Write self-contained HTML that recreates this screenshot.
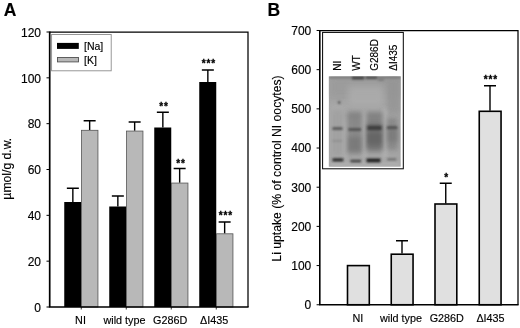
<!DOCTYPE html>
<html><head><meta charset="utf-8"><title>Figure</title>
<style>
html,body{margin:0;padding:0;background:#fff;}
body{width:520px;height:328px;overflow:hidden;}
svg{display:block;}
text{font-family:'Liberation Sans', Arial, sans-serif;fill:#000;stroke:#000;stroke-width:0.15px;}
</style></head><body>
<svg width="520" height="328" viewBox="0 0 520 328">
<defs>
<filter id="b1" filterUnits="userSpaceOnUse" x="315" y="65" width="100" height="110"><feGaussianBlur stdDeviation="0.8"/></filter>
<filter id="b2" filterUnits="userSpaceOnUse" x="315" y="65" width="100" height="110"><feGaussianBlur stdDeviation="2"/></filter>
<filter id="b3" filterUnits="userSpaceOnUse" x="315" y="65" width="100" height="110"><feGaussianBlur stdDeviation="3"/></filter>
<clipPath id="gelclip"><rect x="328.7" y="76.3" width="72.1" height="90.5"/></clipPath>
</defs>
<rect width="520" height="328" fill="#fff"/>

<text x="3.8" y="15.8" font-size="17.5" font-weight="bold">A</text>
<path d="M72.85 202V188.25M66.85 188.25H78.85" stroke="#000" stroke-width="1.4" fill="none"/>
<rect x="64.25" y="202" width="17" height="105" fill="#000"/>
<path d="M89.65 130V120.75M83.65 120.75H95.65" stroke="#000" stroke-width="1.4" fill="none"/>
<rect x="81.55" y="130.3" width="16.4" height="176.7" fill="#b8b8b8" stroke="#555" stroke-width="0.8"/>
<path d="M81.25 307V309.5" stroke="#000" stroke-width="0.8"/>
<path d="M117.85 206.5V196M111.85 196H123.85" stroke="#000" stroke-width="1.4" fill="none"/>
<rect x="109.25" y="206.5" width="17" height="100.5" fill="#000"/>
<path d="M134.65 130.75V122M128.65 122H140.65" stroke="#000" stroke-width="1.4" fill="none"/>
<rect x="126.55" y="131.05" width="16.4" height="175.95" fill="#b8b8b8" stroke="#555" stroke-width="0.8"/>
<path d="M126.25 307V309.5" stroke="#000" stroke-width="0.8"/>
<path d="M162.85 127.5V112.25M156.85 112.25H168.85" stroke="#000" stroke-width="1.4" fill="none"/>
<rect x="154.25" y="127.5" width="17" height="179.5" fill="#000"/>
<path d="M179.65 182.75V168.5M173.65 168.5H185.65" stroke="#000" stroke-width="1.4" fill="none"/>
<rect x="171.55" y="183.05" width="16.4" height="123.95" fill="#b8b8b8" stroke="#555" stroke-width="0.8"/>
<path d="M171.25 307V309.5" stroke="#000" stroke-width="0.8"/>
<path d="M207.85 82V70M201.85 70H213.85" stroke="#000" stroke-width="1.4" fill="none"/>
<rect x="199.25" y="82" width="17" height="225" fill="#000"/>
<path d="M224.65 233.5V222M218.65 222H230.65" stroke="#000" stroke-width="1.4" fill="none"/>
<rect x="216.55" y="233.8" width="16.4" height="73.2" fill="#b8b8b8" stroke="#555" stroke-width="0.8"/>
<path d="M216.25 307V309.5" stroke="#000" stroke-width="0.8"/>
<path d="M49.5 32H248V307" stroke="#000" stroke-width="1.25" fill="none"/>
<path d="M49.7 31.4V307H248.6" stroke="#000" stroke-width="1.7" fill="none"/>
<path d="M46.5 307.00H49.5" stroke="#000" stroke-width="1"/>
<text x="41" y="311.70" font-size="12" text-anchor="end">0</text>
<path d="M46.5 261.17H49.5" stroke="#000" stroke-width="1"/>
<text x="41" y="265.87" font-size="12" text-anchor="end">20</text>
<path d="M46.5 215.33H49.5" stroke="#000" stroke-width="1"/>
<text x="41" y="220.03" font-size="12" text-anchor="end">40</text>
<path d="M46.5 169.50H49.5" stroke="#000" stroke-width="1"/>
<text x="41" y="174.20" font-size="12" text-anchor="end">60</text>
<path d="M46.5 123.66H49.5" stroke="#000" stroke-width="1"/>
<text x="41" y="128.36" font-size="12" text-anchor="end">80</text>
<path d="M46.5 77.83H49.5" stroke="#000" stroke-width="1"/>
<text x="41" y="82.53" font-size="12" text-anchor="end">100</text>
<path d="M46.5 32.00H49.5" stroke="#000" stroke-width="1"/>
<text x="41" y="36.70" font-size="12" text-anchor="end">120</text>
<text transform="translate(11.2 168.7) rotate(-90)" font-size="12.2" text-anchor="middle">µmol/g d.w.</text>
<text x="80.5" y="323.9" font-size="10.8" text-anchor="middle">NI</text>
<text x="124.5" y="323.9" font-size="10.8" text-anchor="middle">wild type</text>
<text x="170.2" y="323.9" font-size="10.8" text-anchor="middle">G286D</text>
<text x="214.2" y="323.9" font-size="10.8" text-anchor="middle">ΔI435</text>
<rect x="51.6" y="34.5" width="59.6" height="36.3" fill="#fff" stroke="#8c8c8c" stroke-width="0.9"/>
<rect x="57" y="42.9" width="21.8" height="6" fill="#000"/>
<rect x="57.5" y="57.5" width="21" height="4.4" fill="#b8b8b8" stroke="#505050" stroke-width="0.9"/>
<text x="84" y="50.2" font-size="10.5">[Na]</text>
<text x="84" y="64.2" font-size="10.5">[K]</text>
<text x="163.9" y="110.4" font-size="10" font-weight="bold" letter-spacing="0.8" style="stroke-width:0.3px" text-anchor="middle">**</text>
<text x="180.9" y="167.15" font-size="10" font-weight="bold" letter-spacing="0.8" style="stroke-width:0.3px" text-anchor="middle">**</text>
<text x="208.9" y="67.4" font-size="10" font-weight="bold" letter-spacing="0.8" style="stroke-width:0.3px" text-anchor="middle">***</text>
<text x="225.9" y="219.15" font-size="10" font-weight="bold" letter-spacing="0.8" style="stroke-width:0.3px" text-anchor="middle">***</text>
<text x="267.6" y="15.8" font-size="17.5" font-weight="bold">B</text>
<rect x="347.5" y="265.6" width="21.8" height="39.15" fill="#e0e0e0" stroke="#000" stroke-width="1.6"/>
<path d="M402.0 253.6V240.75M396.0 240.75H408.0" stroke="#000" stroke-width="1.4" fill="none"/>
<rect x="391.25" y="254.2" width="21.8" height="50.550000000000004" fill="#e0e0e0" stroke="#000" stroke-width="1.6"/>
<path d="M445.75 203.4V183.25M439.75 183.25H451.75" stroke="#000" stroke-width="1.4" fill="none"/>
<rect x="435.0" y="204.0" width="21.8" height="100.75" fill="#e0e0e0" stroke="#000" stroke-width="1.6"/>
<path d="M490.0 110.7V85.75M484.0 85.75H496.0" stroke="#000" stroke-width="1.4" fill="none"/>
<rect x="479.25" y="111.3" width="21.8" height="193.45000000000002" fill="#e0e0e0" stroke="#000" stroke-width="1.6"/>
<path d="M319.5 30.5H518V304.75" stroke="#000" stroke-width="1.25" fill="none"/>
<path d="M319.8 29.9V304.75H518.6" stroke="#000" stroke-width="1.6" fill="none"/>
<path d="M316.6 304.75H319.5" stroke="#000" stroke-width="1"/>
<text x="311.3" y="309.05" font-size="12" text-anchor="end">0</text>
<path d="M316.6 265.57H319.5" stroke="#000" stroke-width="1"/>
<text x="311.3" y="269.87" font-size="12" text-anchor="end">100</text>
<path d="M316.6 226.39H319.5" stroke="#000" stroke-width="1"/>
<text x="311.3" y="230.69" font-size="12" text-anchor="end">200</text>
<path d="M316.6 187.21H319.5" stroke="#000" stroke-width="1"/>
<text x="311.3" y="191.51" font-size="12" text-anchor="end">300</text>
<path d="M316.6 148.03H319.5" stroke="#000" stroke-width="1"/>
<text x="311.3" y="152.33" font-size="12" text-anchor="end">400</text>
<path d="M316.6 108.85H319.5" stroke="#000" stroke-width="1"/>
<text x="311.3" y="113.15" font-size="12" text-anchor="end">500</text>
<path d="M316.6 69.67H319.5" stroke="#000" stroke-width="1"/>
<text x="311.3" y="73.97" font-size="12" text-anchor="end">600</text>
<path d="M316.6 30.49H319.5" stroke="#000" stroke-width="1"/>
<text x="311.3" y="34.79" font-size="12" text-anchor="end">700</text>
<text transform="translate(281.2 168.5) rotate(-90)" font-size="12.2" text-anchor="middle">Li uptake (% of control NI oocytes)</text>
<text x="357.8" y="321.7" font-size="10.8" text-anchor="middle">NI</text>
<text x="401" y="321.7" font-size="10.8" text-anchor="middle">wild type</text>
<text x="446.8" y="321.7" font-size="10.8" text-anchor="middle">G286D</text>
<text x="490.5" y="321.7" font-size="10.8" text-anchor="middle">ΔI435</text>
<text x="446.6" y="180.8" font-size="10" font-weight="bold" letter-spacing="0.8" style="stroke-width:0.3px" text-anchor="middle">*</text>
<text x="490.9" y="82.6" font-size="10" font-weight="bold" letter-spacing="0.8" style="stroke-width:0.3px" text-anchor="middle">***</text>
<rect x="322.6" y="32.4" width="80.7" height="136.4" fill="#fff" stroke="#000" stroke-width="1"/>
<text transform="translate(340.9 70.8) rotate(-90)" font-size="10">NI</text>
<text transform="translate(360.1 70.8) rotate(-90)" font-size="10">WT</text>
<text transform="translate(377.8 70.8) rotate(-90)" font-size="10">G286D</text>
<text transform="translate(397.2 70.8) rotate(-90)" font-size="10">ΔI435</text>
<g clip-path="url(#gelclip)">
<rect x="328.7" y="76.3" width="72.1" height="90.5" fill="#a4a4a4"/>
<rect x="329" y="76" width="72" height="22" fill="#9a9a9a" opacity="0.8" filter="url(#b3)"/>
<rect x="386" y="76" width="15" height="38" fill="#949494" opacity="0.8" filter="url(#b3)"/>
<rect x="329" y="104" width="17" height="63" fill="#aeaeae" opacity="0.7" filter="url(#b3)"/>
<rect x="348" y="86" width="36" height="20" fill="#adadad" opacity="0.8" filter="url(#b3)"/>
<rect x="329" y="162" width="72" height="5" fill="#b2b2b2" opacity="0.8" filter="url(#b2)"/>
<rect x="362.8" y="112" width="3.0" height="46" fill="#bcbcbc" opacity="0.85" filter="url(#b2)"/>
<rect x="383" y="108" width="3.1999999999999886" height="50" fill="#bcbcbc" opacity="0.85" filter="url(#b2)"/>
<rect x="343.5" y="120" width="3.5" height="38" fill="#b4b4b4" opacity="0.6" filter="url(#b2)"/>
<rect x="332.5" y="110" width="10.0" height="46" fill="#989898" opacity="0.5" filter="url(#b2)"/>
<rect x="347.5" y="112" width="14.5" height="42" fill="#868686" opacity="0.9" filter="url(#b2)"/>
<rect x="348.5" y="137" width="12.5" height="14" fill="#747474" opacity="0.7" filter="url(#b2)"/>
<rect x="349" y="113.5" width="11" height="5.5" fill="#808080" opacity="0.5" filter="url(#b2)"/>
<rect x="366.5" y="112" width="16.0" height="40" fill="#808080" opacity="0.9" filter="url(#b2)"/>
<rect x="367" y="124" width="15" height="24" fill="#686868" opacity="0.85" filter="url(#b2)"/>
<rect x="367.5" y="134" width="14.0" height="9" fill="#5e5e5e" opacity="0.4" filter="url(#b1)"/>
<rect x="387" y="118" width="10.5" height="32" fill="#858585" opacity="0.85" filter="url(#b2)"/>
<rect x="387.5" y="128" width="10.0" height="14" fill="#747474" opacity="0.6" filter="url(#b2)"/>
<rect x="329" y="76.3" width="72" height="1.9000000000000057" fill="#707070" opacity="0.9" filter="url(#b1)"/>
<rect x="352" y="76.5" width="12" height="2.799999999999997" fill="#3c3c3c" opacity="0.95" filter="url(#b1)"/>
<rect x="366" y="76.5" width="11" height="2.299999999999997" fill="#484848" opacity="0.95" filter="url(#b1)"/>
<rect x="378" y="78" width="6" height="3" fill="#787878" opacity="0.8" filter="url(#b1)"/>
<circle cx="339.2" cy="102.5" r="1.2" fill="#3c3c3c" filter="url(#b1)"/>
<rect x="332.5" y="127.3" width="10.0" height="2.500000000000014" fill="#4c4c4c" opacity="0.95" filter="url(#b1)"/>
<rect x="348.5" y="128.2" width="12.5" height="2.6000000000000227" fill="#4c4c4c" opacity="0.95" filter="url(#b1)"/>
<rect x="367.5" y="125.8" width="14.0" height="4.200000000000003" fill="#3e3e3e" opacity="0.95" filter="url(#b1)"/>
<rect x="387" y="126.3" width="10.300000000000011" height="2.700000000000003" fill="#4c4c4c" opacity="0.95" filter="url(#b1)"/>
<rect x="332.5" y="140" width="9.5" height="1.8000000000000114" fill="#8a8a8a" opacity="0.8" filter="url(#b1)"/>
<rect x="332.5" y="158.3" width="10.800000000000011" height="3.1999999999999886" fill="#262626" opacity="0.97" filter="url(#b1)"/>
<rect x="350.5" y="159.8" width="10.5" height="2.5" fill="#383838" opacity="0.95" filter="url(#b1)"/>
<rect x="366.5" y="158.5" width="14.0" height="3.8000000000000114" fill="#1e1e1e" opacity="0.97" filter="url(#b1)"/>
<rect x="387.3" y="158.5" width="9.0" height="1.8000000000000114" fill="#5c5c5c" opacity="0.9" filter="url(#b1)"/>
</g>
</svg></body></html>
